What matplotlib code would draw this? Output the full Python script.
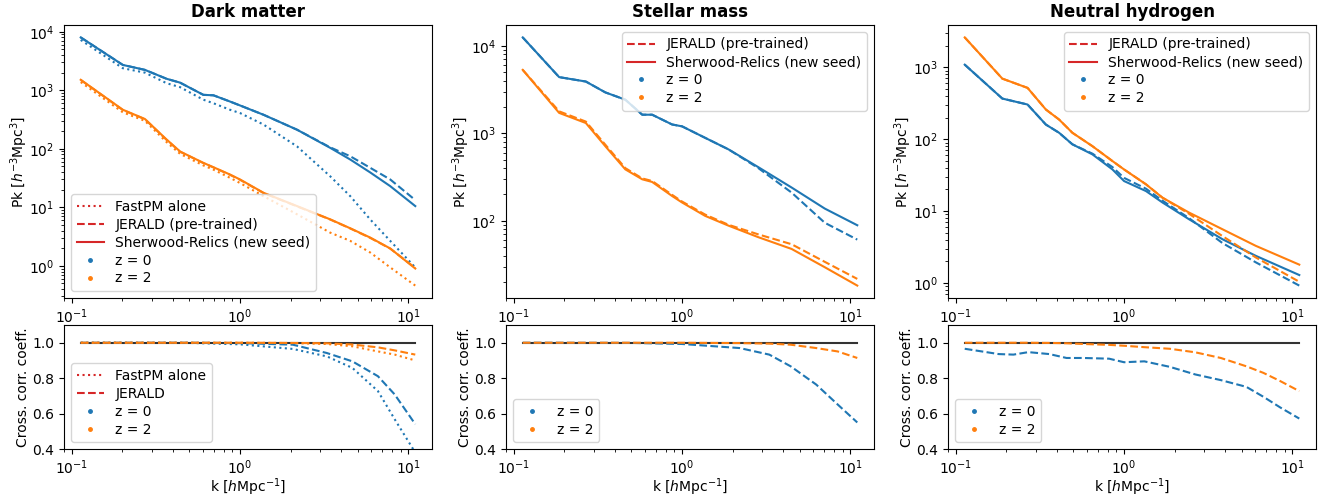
import numpy as np
import matplotlib.pyplot as plt
from matplotlib.lines import Line2D

# Power spectra, dark matter
k_dm = [0.113, 0.201, 0.272, 0.366, 0.44, 0.605, 0.695, 0.87, 1.0, 1.38, 2.18, 3.43, 4.52, 5.94, 7.81, 11.0]
dm_z0_sher = [8000, 2710, 2230, 1570, 1350, 835, 820, 643, 550, 381, 212, 104, 65.5, 39.4, 23, 10.5]
dm_z0_jer = [8000, 2710, 2230, 1570, 1350, 835, 820, 643, 550, 381, 212, 106, 74.5, 47.3, 29.9, 13.3]
dm_z0_fpm = [7240, 2380, 2000, 1320, 1130, 690, 600, 465, 408, 259, 110, 34, 15.5, 6.2, 2.67, 0.94]
dm_z2_sher = [1510, 465, 323, 144, 90, 57.5, 48.4, 36.4, 29.9, 17.7, 10.5, 6.24, 4.38, 3.04, 1.98, 0.9]
dm_z2_jer = [1500, 460, 320, 142, 89, 57, 48, 36, 29.5, 17.5, 10.4, 6.2, 4.35, 3.0, 1.97, 0.92]
dm_z2_fpm = [1380, 420, 300, 130, 82, 52, 44, 32, 26, 15.5, 7.6, 3.7, 2.67, 1.69, 0.94, 0.46]

# Power spectra, stellar mass
k_st = [0.113, 0.186, 0.268, 0.35, 0.46, 0.58, 0.664, 0.873, 1.0, 1.37, 1.89, 2.84, 4.48, 7.05, 11.0]
st_z0_sher = [12450, 4380, 3900, 2930, 2420, 1630, 1630, 1260, 1200, 888, 654, 410, 240, 138, 89]
st_z0_jer = [12450, 4380, 3900, 2930, 2420, 1630, 1630, 1260, 1200, 888, 654, 400, 210, 95, 61]
st_z2_sher = [5300, 1710, 1310, 711, 387, 298, 278, 192, 162, 114, 88, 65, 47.7, 29.5, 18.2]
st_z2_jer = [5300, 1780, 1360, 740, 400, 305, 285, 198, 166, 118, 90, 70, 54, 34, 21.7]

# Power spectra, neutral hydrogen
k_hi = [0.113, 0.189, 0.267, 0.343, 0.411, 0.493, 0.649, 0.853, 1.0, 1.35, 1.69, 2.43, 3.84, 6.06, 11.0]
hi_z0_sher = [1090, 368, 304, 160, 123, 85, 61.5, 38, 26.2, 19, 13.2, 7.72, 4.07, 2.39, 1.29]
hi_z0_jer = [1090, 368, 304, 160, 123, 85, 63, 41, 29, 20.5, 14, 8.0, 3.6, 1.94, 0.92]
hi_z2_sher = [2610, 697, 518, 259, 188, 123, 80, 49.7, 38, 23.6, 15.4, 9.56, 5.6, 3.29, 1.8]
hi_z2_jer = [2610, 697, 518, 259, 188, 123, 80, 49.7, 38, 23.6, 15.4, 9.2, 4.5, 2.27, 1.04]

# Cross-correlation coefficients
kr_dm = [0.113, 0.5, 1.0, 2.06, 3.28, 4.65, 6.6, 8.3, 11.0]
r_dm_z0_fpm = [1.0, 0.999, 0.991, 0.965, 0.923, 0.858, 0.727, 0.568, 0.38]
r_dm_z0_jer = [1.0, 1.0, 0.998, 0.989, 0.942, 0.895, 0.811, 0.708, 0.54]
r_dm_z2_fpm = [1.0, 1.0, 1.0, 0.998, 0.993, 0.98, 0.951, 0.933, 0.9]
r_dm_z2_jer = [1.0, 1.0, 1.0, 0.999, 0.997, 0.99, 0.974, 0.957, 0.933]

kr_st = [0.113, 0.5, 1.0, 2.2, 3.3, 4.42, 6.27, 8.4, 11.0]
r_st_z0 = [1.0, 0.999, 0.993, 0.97, 0.933, 0.867, 0.764, 0.652, 0.55]
r_st_z2 = [1.0, 1.0, 1.0, 0.998, 0.995, 0.989, 0.97, 0.951, 0.914]

kr_hi = [0.113, 0.18, 0.22, 0.27, 0.36, 0.455, 0.574, 0.815, 1.0, 1.32, 1.87, 2.65, 3.76, 5.33, 6.73, 8.5, 11.0]
r_hi_z0 = [0.966, 0.936, 0.933, 0.947, 0.936, 0.914, 0.914, 0.91, 0.89, 0.895, 0.864, 0.821, 0.789, 0.751, 0.695, 0.634, 0.572]
r_hi_z2 = [1.0, 1.0, 1.0, 1.0, 0.999, 0.997, 0.993, 0.988, 0.983, 0.975, 0.966, 0.946, 0.914, 0.867, 0.83, 0.783, 0.727]

titles = ['Dark matter', 'Stellar mass', 'Neutral hydrogen']

fig = plt.figure(figsize=(13.24, 4.96), dpi=100)
lefts = [64 / 1324, 506 / 1324, 948 / 1324]
w = 368 / 1324
top_axes, bot_axes = [], []
for x0 in lefts:
    at = fig.add_axes([x0, 0.3992, w, 0.5504])
    ab = fig.add_axes([x0, 0.0947, w, 0.250], sharex=at)
    top_axes.append(at)
    bot_axes.append(ab)

# Top row: power spectra
ax = top_axes[0]
ax.plot(k_dm, dm_z0_fpm, ':', color='C0')
ax.plot(k_dm, dm_z0_jer, '--', color='C0')
ax.plot(k_dm, dm_z0_sher, '-', color='C0')
ax.plot(k_dm, dm_z2_fpm, ':', color='C1')
ax.plot(k_dm, dm_z2_jer, '--', color='C1')
ax.plot(k_dm, dm_z2_sher, '-', color='C1')

ax = top_axes[1]
ax.plot(k_st, st_z0_jer, '--', color='C0')
ax.plot(k_st, st_z0_sher, '-', color='C0')
ax.plot(k_st, st_z2_jer, '--', color='C1')
ax.plot(k_st, st_z2_sher, '-', color='C1')

ax = top_axes[2]
ax.plot(k_hi, hi_z0_jer, '--', color='C0')
ax.plot(k_hi, hi_z0_sher, '-', color='C0')
ax.plot(k_hi, hi_z2_jer, '--', color='C1')
ax.plot(k_hi, hi_z2_sher, '-', color='C1')

# Bottom row: cross-correlation coefficients
ax = bot_axes[0]
ax.plot([k_dm[0], k_dm[-1]], [1, 1], color='k', alpha=0.8)
ax.plot(kr_dm, r_dm_z0_fpm, ':', color='C0')
ax.plot(kr_dm, r_dm_z0_jer, '--', color='C0')
ax.plot(kr_dm, r_dm_z2_fpm, ':', color='C1')
ax.plot(kr_dm, r_dm_z2_jer, '--', color='C1')

ax = bot_axes[1]
ax.plot([k_st[0], k_st[-1]], [1, 1], color='k', alpha=0.8)
ax.plot(kr_st, r_st_z0, '--', color='C0')
ax.plot(kr_st, r_st_z2, '--', color='C1')

ax = bot_axes[2]
ax.plot([k_hi[0], k_hi[-1]], [1, 1], color='k', alpha=0.8)
ax.plot(kr_hi, r_hi_z0, '--', color='C0')
ax.plot(kr_hi, r_hi_z2, '--', color='C1')

# Legend proxies
h_fpm = Line2D([], [], ls=':', color='C3', label='FastPM alone')
h_jer = Line2D([], [], ls='--', color='C3', label='JERALD (pre-trained)')
h_jer_short = Line2D([], [], ls='--', color='C3', label='JERALD')
h_sher = Line2D([], [], ls='-', color='C3', label='Sherwood-Relics (new seed)')
h_z0 = Line2D([], [], ls='none', marker='.', markersize=5, color='C0', label='z = 0')
h_z2 = Line2D([], [], ls='none', marker='.', markersize=5, color='C1', label='z = 2')

leg_kw = dict(labelspacing=0.28)
top_axes[0].legend(handles=[h_fpm, h_jer, h_sher, h_z0, h_z2], loc='lower left', **leg_kw)
top_axes[1].legend(handles=[h_jer, h_sher, h_z0, h_z2], loc='upper right', **leg_kw)
top_axes[2].legend(handles=[h_jer, h_sher, h_z0, h_z2], loc='upper right', **leg_kw)
bot_axes[0].legend(handles=[h_fpm, h_jer_short, h_z0, h_z2], loc='lower left', **leg_kw)
bot_axes[1].legend(handles=[h_z0, h_z2], loc='lower left', **leg_kw)
bot_axes[2].legend(handles=[h_z0, h_z2], loc='lower left', **leg_kw)

for at, ab, t in zip(top_axes, bot_axes, titles):
    at.set_xscale('log')
    at.set_yscale('log')
    at.set_title(t, fontsize=12, fontweight='bold')
    at.set_ylabel(r'Pk [$h^{-3}$Mpc$^{3}$]', labelpad=-1)
    ab.set_ylim(0.4, 1.1)
    ab.set_ylabel('Cross. corr. coeff.', labelpad=1.5)
    ab.set_xlabel(r'k [$h$Mpc$^{-1}$]', labelpad=-1)

fig.savefig('out.png', dpi=100)
